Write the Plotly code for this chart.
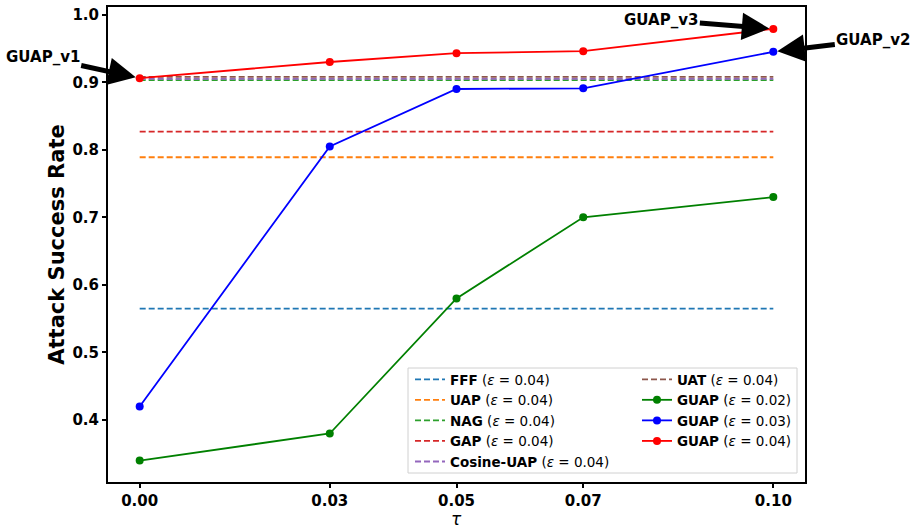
import plotly.graph_objects as go

tau = [0.0, 0.03, 0.05, 0.07, 0.10]
tick_labels = ["0.00", "0.03", "0.05", "0.07", "0.10"]

baseline_names = ["FFF", "UAP", "NAG", "GAP", "Cosine-UAP", "UAT"]
baseline_values = [0.565, 0.789, 0.903, 0.827, 0.905, 0.908]
baseline_colors = ["#1f77b4", "#ff7f0e", "#2ca02c", "#d62728", "#9467bd", "#8c564b"]
baseline_eps = "0.04"

guap_eps = ["0.02", "0.03", "0.04"]
guap_002 = [0.34, 0.38, 0.58, 0.70, 0.73]
guap_003 = [0.42, 0.805, 0.89, 0.891, 0.945]
guap_004 = [0.906, 0.930, 0.943, 0.946, 0.979]
guap_colors = ["#008000", "#0000ff", "#ff0000"]

FONT = "DejaVu Sans"

fig = go.Figure()

for i, (name, val, col) in enumerate(zip(baseline_names, baseline_values, baseline_colors)):
    fig.add_trace(go.Scatter(
        x=[tau[0], tau[-1]], y=[val, val], mode="lines",
        line=dict(color=col, width=1.8, dash="6px,3px"),
        name=f"<b>{name}</b> (<i>ε</i> = {baseline_eps})",
        legend="legend" if i < 5 else "legend2",
        hoverinfo="skip",
    ))

for eps, ys, col in zip(guap_eps, [guap_002, guap_003, guap_004], guap_colors):
    fig.add_trace(go.Scatter(
        x=tau, y=ys, mode="lines+markers",
        line=dict(color=col, width=1.8),
        marker=dict(color=col, size=8),
        name=f"<b>GUAP</b> (<i>ε</i> = {eps})",
        legend="legend2",
    ))

ann_font = dict(family=FONT, size=15, color="black", weight="bold")
annots = [
    dict(x=tau[0], y=guap_004[0], text="GUAP_v1", ax=-97, ay=-21),
    dict(x=tau[-1], y=guap_004[-1], text="GUAP_v3", ax=-112, ay=-9),
    dict(x=tau[-1], y=guap_003[-1], text="GUAP_v2", ax=100, ay=-12),
]
for a in annots:
    fig.add_annotation(
        x=a["x"], y=a["y"], xref="x", yref="y", text=a["text"],
        ax=a["ax"], ay=a["ay"], showarrow=True, arrowhead=2, arrowsize=1.1,
        arrowwidth=5, arrowcolor="black", standoff=4, font=ann_font,
    )

# x-axis title (tau)
fig.add_annotation(x=0.5, y=-(507 - 482) / 475, xref="paper", yref="paper",
                   text="<i>τ</i>", showarrow=False, xanchor="center", yanchor="top",
                   font=dict(family=FONT, size=17, color="black"))

# legend box
fig.add_shape(type="rect", xref="paper", yref="paper",
              x0=(408 - 108) / 697, x1=(797 - 108) / 697,
              y0=(482 - 473) / 475, y1=(482 - 368) / 475,
              line=dict(color="#d0d0d0", width=1), fillcolor="white", layer="below")

tickfont = dict(family=FONT, size=15, color="black", weight="bold")
legfont = dict(family=FONT, size=13.5, color="black")
fig.update_layout(
    width=921, height=529,
    margin=dict(l=108, r=116, t=7, b=47),
    paper_bgcolor="white", plot_bgcolor="rgba(0,0,0,0)",
    font=dict(family=FONT, color="black"),
    showlegend=True,
    legend=dict(x=(410 - 108) / 697, y=(482 - 364) / 475, xanchor="left", yanchor="top",
                bgcolor="rgba(0,0,0,0)", font=legfont, tracegroupgap=0, itemwidth=30),
    legend2=dict(x=(637 - 108) / 697, y=(482 - 364) / 475, xanchor="left", yanchor="top",
                 bgcolor="rgba(0,0,0,0)", font=legfont, tracegroupgap=0, itemwidth=30),
    xaxis=dict(range=[-0.005, 0.105], tickvals=tau, ticktext=tick_labels, automargin=False,
               showgrid=False, zeroline=False, showline=True, mirror=True,
               linecolor="black", linewidth=2, ticks="outside", ticklen=4, tickwidth=1.5,
               tickcolor="black", tickfont=tickfont),
    yaxis=dict(range=[0.3082, 1.0114], tickvals=[0.4, 0.5, 0.6, 0.7, 0.8, 0.9, 1.0], automargin=False,
               ticktext=["0.4", "0.5", "0.6", "0.7", "0.8", "0.9", "1.0"],
               showgrid=False, zeroline=False, showline=True, mirror=True,
               linecolor="black", linewidth=2, ticks="outside", ticklen=4, tickwidth=1.5,
               tickcolor="black", tickfont=tickfont,
               title=dict(text="Attack Success Rate", font=dict(family=FONT, size=21, color="black", weight="bold"), standoff=2)),
)

fig.write_html("out.html")
